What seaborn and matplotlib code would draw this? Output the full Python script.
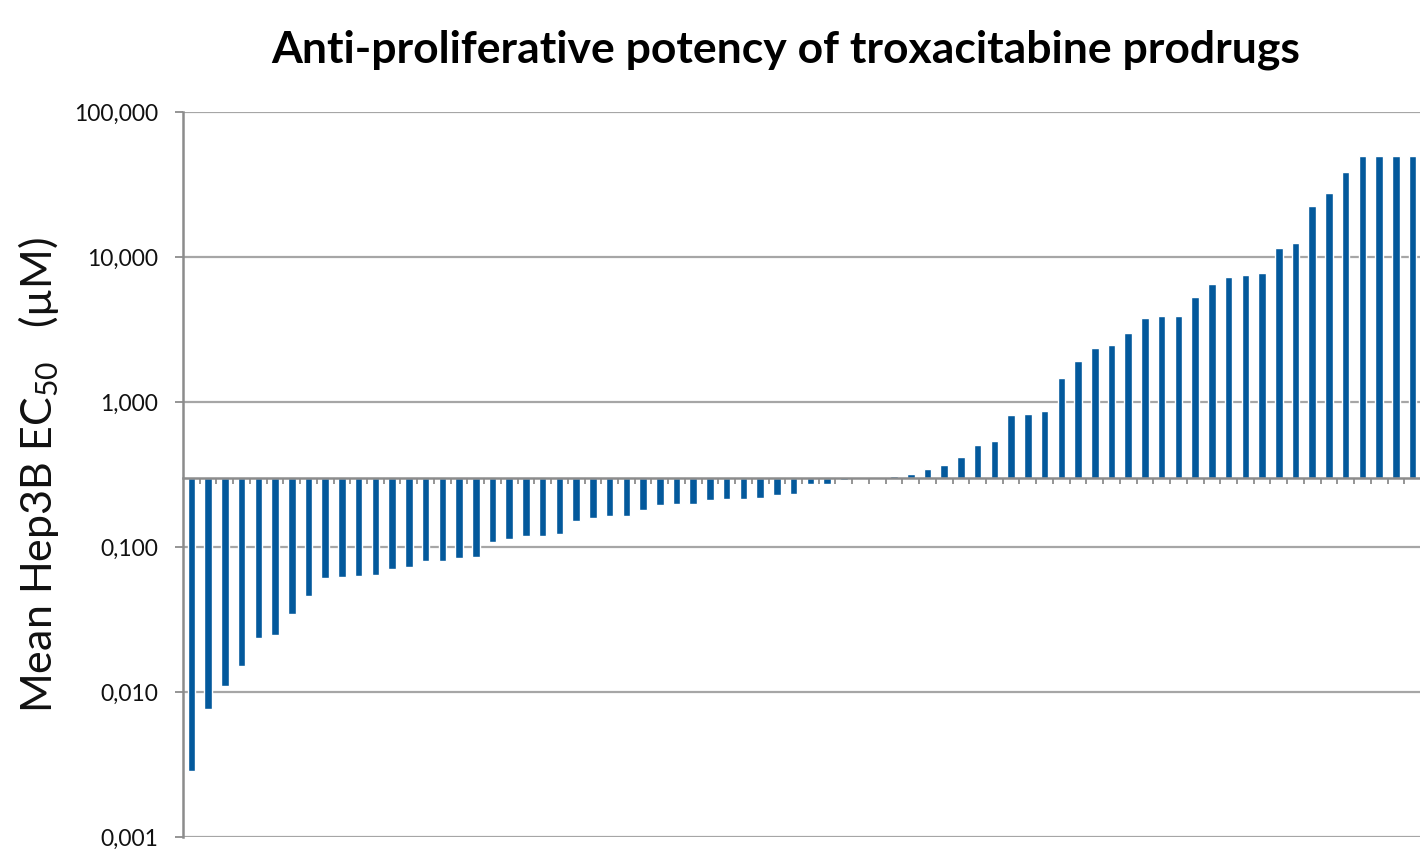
import numpy as np
import pandas as pd
import matplotlib
matplotlib.use("Agg")
import matplotlib.pyplot as plt
from matplotlib.ticker import FixedLocator, FuncFormatter, NullFormatter
import seaborn as sns

# Mean Hep3B EC50 (µM) for each prodrug, sorted by potency
ec50 = [
    0.00285, 0.0076, 0.011, 0.015, 0.0235, 0.0246, 0.0345, 0.046, 0.061, 0.062,
    0.063, 0.064, 0.0705, 0.073, 0.080, 0.080, 0.084, 0.085, 0.108, 0.114,
    0.1185, 0.120, 0.123, 0.150, 0.158, 0.164, 0.164, 0.180, 0.195, 0.199,
    0.199, 0.210, 0.2155, 0.2155, 0.219, 0.229, 0.232, 0.270, 0.270, 0.291,
    0.298, 0.305, 0.307, 0.319, 0.347, 0.370, 0.420, 0.508, 0.535, 0.818,
    0.830, 0.863, 1.47, 1.93, 2.35, 2.47, 3.00, 3.78, 3.94, 3.94,
    5.32, 6.51, 7.24, 7.51, 7.76, 11.5, 12.4, 22.5, 27.6, 38.5,
    50.0, 50.0, 50.0, 50.0,
]
compound = [f"P{i + 1:02d}" for i in range(len(ec50))]
baseline = 0.3  # horizontal axis crosses the value axis here

title = "Anti-proliferative potency of troxacitabine prodrugs"
ylabel = "Mean Hep3B EC$_{50}$   (µM)"
yticks = [0.001, 0.01, 0.1, 1, 10, 100]

sns.set_theme(style="white")
plt.rcParams["font.family"] = ["Lato", "DejaVu Sans"]
plt.rcParams["mathtext.fontset"] = "custom"
plt.rcParams["mathtext.rm"] = "Lato"
plt.rcParams["mathtext.it"] = "Lato:italic"
plt.rcParams["mathtext.bf"] = "Lato:bold"

df = pd.DataFrame({"compound": compound, "ec50": ec50})
df["offset"] = df["ec50"] - baseline

fig = plt.figure(figsize=(14.2, 8.57), dpi=100)
ax = fig.add_axes([183 / 1420, 1 - 837 / 857, 1238 / 1420, (837 - 112) / 857])

bar_color = "#03599c"
sns.barplot(data=df, x="compound", y="offset", bottom=baseline, color=bar_color,
            width=0.45, saturation=1, ax=ax, errorbar=None)

ax.set_yscale("log")
ax.set_ylim(0.001, 100)
ax.set_xlim(-0.5, len(ec50) - 0.5)

grid_color = "#a6a6a6"
ax.yaxis.set_major_locator(FixedLocator(yticks))
ax.yaxis.set_minor_locator(FixedLocator([]))
ax.yaxis.set_major_formatter(FuncFormatter(lambda v, _: f"{v:.3f}".replace(".", ",")))
ax.grid(axis="y", color=grid_color, linewidth=1.6)
ax.set_axisbelow(True)

# category boundary ticks hang below the baseline axis
ax.xaxis.set_major_locator(FixedLocator(np.arange(len(ec50)) + 0.5))
ax.xaxis.set_major_formatter(NullFormatter())
ax.tick_params(axis="x", which="major", direction="out", length=4.5, width=1.3,
               color="#8c8c8c", bottom=True)
ax.tick_params(axis="y", which="major", direction="out", length=6, width=1.3,
               color="#8c8c8c", left=True, labelsize=16.5, pad=12, labelcolor="#111111")

for side in ("top", "right"):
    ax.spines[side].set_visible(False)
ax.spines["bottom"].set_position(("data", baseline))
ax.spines["bottom"].set_color("#8c8c8c")
ax.spines["bottom"].set_linewidth(1.8)
ax.spines["left"].set_color("#8c8c8c")
ax.spines["left"].set_linewidth(1.8)

ax.set_xlabel("")
ax.set_ylabel(ylabel, fontsize=31, labelpad=9, color="#111111")
fig.text(0.5535, 1 - 50 / 857, title, ha="center", va="center",
         fontsize=32, fontweight="bold", color="#000000")

fig.savefig("out.png", dpi=100)
